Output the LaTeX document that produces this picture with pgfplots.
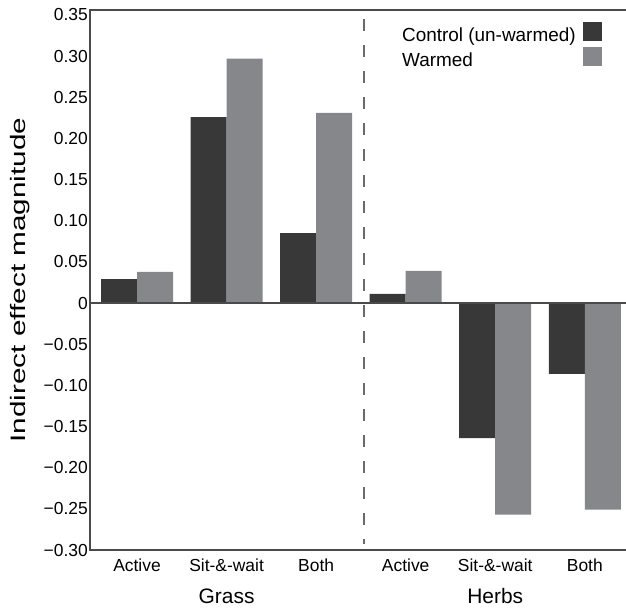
\documentclass[border=0pt]{standalone}
\usepackage{fontspec}
\setmainfont{Liberation Sans}
\newfontfamily\ylabfont[FakeStretch=1.42]{Liberation Sans}
\usepackage{pgfplots}
\pgfplotsset{compat=1.18}
\definecolor{ctrl}{HTML}{383838}
\definecolor{warm}{HTML}{86878B}
\definecolor{axgray}{HTML}{4A4A4A}
\definecolor{dashgray}{HTML}{6A6A6A}
\begin{document}
\begin{tikzpicture}
\begin{axis}[
  at={(90bp,58bp)}, anchor=south west,
  scale only axis, width=536bp, height=540bp,
  xmin=-0.525, xmax=5.46, ymin=-0.30, ymax=0.356,
  axis line style={draw=none},
  major tick length=0pt,
  xtick={0,1,2,3,4,5},
  xticklabels={Active,Sit-\&-wait,Both,Active,Sit-\&-wait,Both},
  ytick={-0.30,-0.25,-0.20,-0.15,-0.10,-0.05,0,0.05,0.10,0.15,0.20,0.25,0.30,0.35},
  yticklabels={−0.30,−0.25,−0.20,−0.15,−0.10,−0.05,0,0.05,0.10,0.15,0.20,0.25,0.30,0.35},
  tick label style={font=\fontsize{17.5}{20}\selectfont},
  yticklabel style={inner sep=2bp},
  xticklabel style={inner sep=3bp, yshift=-6bp},
  ylabel={Indirect effect magnitude},
  every axis y label/.style={at={(axis description cs:-0.1306,0.5)}, rotate=90, anchor=center},
  ylabel style={font=\ylabfont\fontsize{21}{24}\selectfont},
  legend style={at={(rel axis cs:0.955,0.978)}, anchor=north east, draw=none, fill=none,
    font=\fontsize{19}{22}\selectfont, inner sep=0pt, row sep=4bp, column sep=7bp,
    nodes={inner sep=0pt}},
  legend cell align=left,
  legend plot pos=right,
  clip=false,
]
\addplot[ybar, bar width=36bp, bar shift=-18bp, fill=ctrl, draw=none,
  legend image code/.code={\fill[ctrl] (0bp,-5.5bp) rectangle (19bp,13.5bp);}]
  coordinates {(0,0.029) (1,0.226) (2,0.085) (3,0.011) (4,-0.164) (5,-0.086)};
\addlegendentry{Control (un-warmed)}
\addplot[ybar, bar width=36bp, bar shift=18bp, fill=warm, draw=none,
  legend image code/.code={\fill[warm] (0bp,-5.5bp) rectangle (19bp,13.5bp);}]
  coordinates {(0,0.038) (1,0.297) (2,0.231) (3,0.039) (4,-0.257) (5,-0.251)};
\addlegendentry{Warmed}
\draw[axgray, line width=2bp] (axis cs:-0.525,0) -- (axis cs:5.46,0);
\draw[dashgray, line width=2bp, dash pattern=on 12bp off 14bp] (axis cs:2.53,0.345) -- (axis cs:2.53,-0.293);
\draw[axgray, line width=2bp] (rel axis cs:1,1) -- (rel axis cs:0,1) -- (rel axis cs:0,0) -- (rel axis cs:1,0);
\node[font=\fontsize{21}{24}\selectfont] at ({axis cs:1,0}|-{rel axis cs:0,0}) [yshift=-46.5bp] {Grass};
\node[font=\fontsize{21}{24}\selectfont] at ({axis cs:4,0}|-{rel axis cs:0,0}) [yshift=-46.5bp] {Herbs};
\end{axis}
\pgfresetboundingbox
\path (0,0) rectangle (626bp,608bp);
\end{tikzpicture}
\end{document}
